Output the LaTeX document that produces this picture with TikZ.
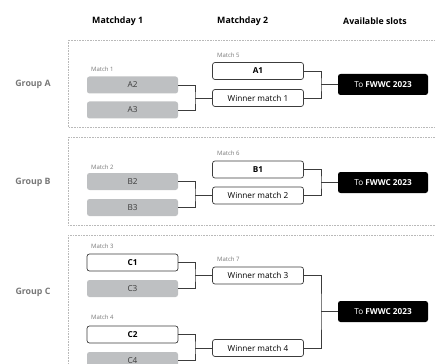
\documentclass[tikz,border=0pt]{standalone}
\usepackage{fontspec}
\setmainfont{Open Sans}
\usepackage{tikz}
\definecolor{fwwcdark}{RGB}{60, 60, 60}
\definecolor{fwwcgray}{RGB}{190, 192, 194}
\definecolor{fwwclabel}{RGB}{120, 120, 120}
\definecolor{fwwcframe}{RGB}{185, 185, 185}

\tikzset{
    teambox/.style={draw=fwwcdark, line width=0.7pt, fill=white, rounded corners=2.5pt,
        minimum width=91pt, minimum height=17pt, inner sep=0pt, font=\fontsize{8.2}{9}\selectfont\bfseries},
    seedbox/.style={fill=fwwcgray, rounded corners=2.5pt, text=fwwcdark,
        minimum width=91pt, minimum height=17pt, inner sep=0pt, font=\fontsize{8.2}{9}\selectfont},
    winnerbox/.style={teambox, font=\fontsize{8.2}{9}\selectfont},
    slotbox/.style={fill=black, rounded corners=2.5pt, text=white,
        minimum width=90pt, minimum height=21pt, inner sep=0pt, font=\fontsize{8.2}{9}\selectfont},
    matchlbl/.style={anchor=west, inner sep=0pt, text=fwwclabel, font=\fontsize{6}{7}\selectfont},
    grouplbl/.style={text=fwwclabel, font=\fontsize{8.8}{10}\selectfont\bfseries},
    headlbl/.style={anchor=west, inner sep=0pt, font=\fontsize{8.8}{10}\selectfont\bfseries},
    groupframe/.style={draw=fwwcframe, densely dotted, line width=0.6pt},
    bracket/.style={draw=fwwcdark, line width=0.6pt},
    feed/.style={draw=fwwcdark, line width=0.9pt}
}

\begin{document}
\begin{tikzpicture}[x=1pt, y=-1pt]
    \useasboundingbox (0,0) rectangle (435,363);
    \clip (0,0) rectangle (435,363);

    % Column headers
    \node[headlbl] (day1) at (92,21) {Matchday 1};
    \node[headlbl] (day2) at (217,21) {Matchday 2};
    \node[headlbl] (slots) at (343,21) {Available slots};

    % Group A
    \draw[groupframe] (68,40) rectangle (445,127);
    \node[grouplbl] (grpa) at (33,84) {Group A};
    \node[matchlbl] (m1) at (91,69) {Match 1};
    \node[seedbox] (a2) at (132.5,85) {A2};
    \node[seedbox] (a3) at (132.5,110) {A3};
    \node[matchlbl] (m5) at (217,55) {Match 5};
    \node[teambox] (a1) at (258,71) {A1};
    \node[winnerbox] (w1) at (258,98) {Winner match 1};
    \node[slotbox] (sa) at (383,84.5) {To \textbf{FWWC 2023}};
    \coordinate (ja) at (195,98);
    \coordinate (ka) at (321,84.5);
    \draw[bracket] (a2.east) -| (ja) |- (a3.east);
    \draw[feed] (ja) -- (w1.west);
    \draw[bracket] (a1.east) -| (ka) |- (w1.east);
    \draw[feed] (ka) -- (sa.west);

    % Group B
    \draw[groupframe] (68,137) rectangle (445,225);
    \node[grouplbl] (grpb) at (33,182) {Group B};
    \node[matchlbl] (m2) at (91,167) {Match 2};
    \node[seedbox] (b2) at (132.5,181.5) {B2};
    \node[seedbox] (b3) at (132.5,207.5) {B3};
    \node[matchlbl] (m6) at (217,153) {Match 6};
    \node[teambox] (b1) at (258,169.5) {B1};
    \node[winnerbox] (w2) at (258,195.5) {Winner match 2};
    \node[slotbox] (sb) at (383,182.5) {To \textbf{FWWC 2023}};
    \coordinate (jb) at (195,195.5);
    \coordinate (kb) at (321,182.5);
    \draw[bracket] (b2.east) -| (jb) |- (b3.east);
    \draw[feed] (jb) -- (w2.west);
    \draw[bracket] (b1.east) -| (kb) |- (w2.east);
    \draw[feed] (kb) -- (sb.west);

    % Group C
    \draw[groupframe] (68,235) rectangle (445,400);
    \node[grouplbl] (grpc) at (33,292) {Group C};
    \node[matchlbl] (m3) at (91,246) {Match 3};
    \node[teambox] (c1) at (132.5,262.5) {C1};
    \node[seedbox] (c3) at (132.5,288.5) {C3};
    \node[matchlbl] (m7) at (217,259) {Match 7};
    \node[winnerbox] (w3) at (258,275.5) {Winner match 3};
    \node[matchlbl] (m4) at (91,317) {Match 4};
    \node[teambox] (c2) at (132.5,334.5) {C2};
    \node[seedbox] (c4) at (132.5,360.5) {C4};
    \node[winnerbox] (w4) at (258,348) {Winner match 4};
    \node[slotbox] (sc) at (383,311.5) {To \textbf{FWWC 2023}};
    \coordinate (jc) at (195,275.5);
    \coordinate (jd) at (195,348);
    \coordinate (kc) at (321,311.5);
    \draw[bracket] (c1.east) -| (jc) |- (c3.east);
    \draw[feed] (jc) -- (w3.west);
    \draw[bracket] (c2.east) -| (jd) |- (c4.east);
    \draw[feed] (jd) -- (w4.west);
    \draw[bracket] (w3.east) -| (kc) |- (w4.east);
    \draw[feed] (kc) -- (sc.west);
\end{tikzpicture}
\end{document}
